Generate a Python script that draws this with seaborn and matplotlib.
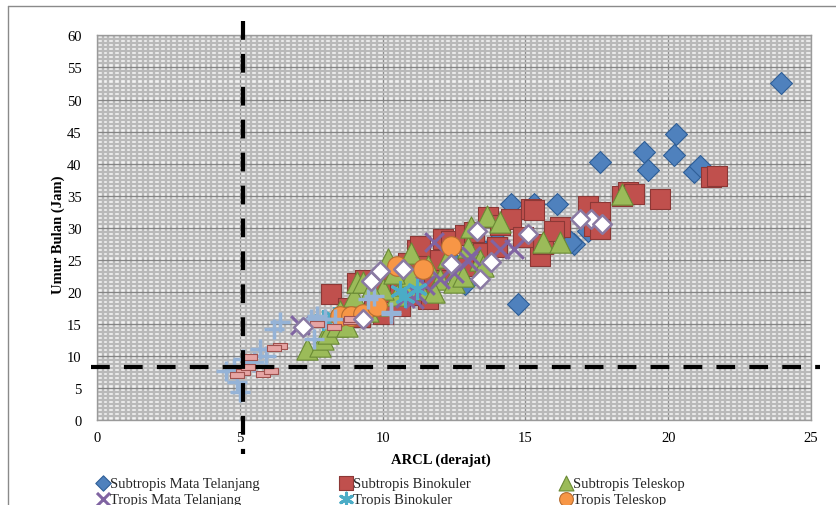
import numpy as np
import pandas as pd
import matplotlib
matplotlib.use('Agg')
import matplotlib.pyplot as plt
from matplotlib.lines import Line2D
from matplotlib.ticker import MultipleLocator
import seaborn as sns

# %% Data

smt_x = [23.95, 20.27, 17.6, 19.15, 19.3, 20.2, 20.9, 21.1, 16.1, 14.5, 15.3, 16.7, 17.2,
         14.74, 12.9, 12.5, 13.5, 11.5, 14.0, 10.5, 16.6]
smt_y = [52.6, 44.6, 40.2, 41.8, 39.0, 41.3, 38.7, 39.6, 33.7, 33.7, 33.7, 27.5, 29.5,
         18.1, 21.2, 24.5, 26.5, 22.0, 28.0, 20.5, 27.8]

sb_x = [8.2, 8.8, 9.1, 9.4, 9.7, 10.0, 10.3, 10.6, 10.9, 11.2, 11.3, 11.6, 12.1, 12.4, 12.9,
        13.2, 13.7, 14.1, 14.5, 15.2, 15.3, 15.5, 15.6, 16.2, 17.2, 17.4, 17.6, 17.6, 18.4,
        18.6, 18.8, 19.7, 21.5, 21.7, 10.0, 10.6, 11.0, 11.8, 12.4, 13.0, 13.5, 14.0, 12.0,
        9.2, 14.9, 16.0]
sb_y = [19.7, 17.5, 21.4, 21.8, 17.0, 16.5, 22.2, 17.8, 24.5, 26.5, 27.1, 18.8, 28.2, 28.0, 28.9,
        29.3, 31.6, 30.5, 31.4, 32.9, 32.7, 25.6, 27.5, 30.1, 33.4, 30.3, 32.4, 29.8, 35.0,
        35.6, 35.3, 34.5, 37.9, 38.0, 20.0, 21.0, 19.5, 22.0, 23.5, 24.0, 26.0, 27.0, 25.0,
        16.0, 28.5, 29.5]

st_x = [7.35, 7.8, 7.9, 8.1, 8.4, 8.75, 9.0, 9.1, 9.3, 9.5, 9.8, 10.2, 10.5, 10.8, 11.0, 11.3,
        11.6, 12.0, 12.3, 12.6, 13.0, 13.1, 13.4, 13.65, 14.1, 15.6, 16.2, 18.4, 10.0, 11.0,
        12.5, 13.5, 8.5, 9.6, 10.4, 11.8, 12.8]
st_y = [11.1, 11.5, 12.6, 13.5, 14.7, 14.7, 19.3, 21.5, 21.5, 17.0, 18.0, 25.1, 19.5, 21.0, 22.5,
        20.5, 24.0, 22.0, 25.5, 23.5, 27.0, 30.1, 25.0, 31.8, 30.9, 27.8, 27.8, 35.3, 20.5, 26.0,
        21.5, 24.0, 17.0, 20.5, 23.0, 20.0, 22.5]

tmt_x = [7.1, 11.1, 11.2, 11.8, 12.0, 13.1, 14.6, 13.0, 14.1, 11.5, 12.5, 10.8]
tmt_y = [14.8, 18.9, 19.7, 27.8, 22.0, 25.6, 26.7, 24.8, 26.7, 21.0, 23.0, 19.0]

tb_x = [7.9, 10.6, 10.8, 11.2, 8.3]
tb_y = [15.6, 20.1, 19.2, 20.5, 16.0]

tt_x = [8.5, 8.9, 9.3, 9.8, 10.5, 11.4, 12.4]
tt_y = [16.2, 16.2, 16.5, 17.8, 24.0, 23.5, 27.2]

# series without a visible legend entry (legend row cut off in the reference)
s7_x = [4.5, 4.8, 5.0, 5.1, 5.5, 5.7, 5.9, 6.2, 6.4, 7.5, 7.6, 7.7, 8.0, 8.35, 9.5, 9.7,
        10.3, 10.3, 4.9]
s7_y = [7.6, 7.9, 4.4, 9.5, 9.0, 11.1, 10.0, 14.2, 15.3, 15.8, 12.6, 16.2, 15.7, 15.7, 18.9, 19.3,
        16.8, 16.5, 6.0]

s8_x = [5.1, 5.3, 5.35, 5.8, 6.1, 6.4, 6.2, 7.7, 8.3, 8.85, 8.9, 4.9]
s8_y = [7.5, 8.3, 9.8, 7.2, 7.6, 11.5, 11.3, 15.0, 14.5, 15.5, 15.8, 7.0]

s9_x = [7.2, 9.3, 9.6, 9.9, 10.7, 12.4, 13.3, 13.8, 13.4, 15.1, 17.3, 17.7, 16.9]
s9_y = [14.5, 15.8, 21.7, 23.2, 23.6, 24.3, 29.5, 24.6, 22.0, 29.0, 31.4, 30.6, 31.4]

# threshold lines
arcl_limit = 5.1
umur_limit = 8.2

# %% Plot

sns.set_theme(style='white')
plt.rcParams['font.family'] = ['Liberation Serif', 'DejaVu Serif']

fig = plt.figure(figsize=(8.37, 5.06), dpi=100)
ax = fig.add_axes([0.1159, 0.168, 0.853, 0.760])

# dense pattern background + major grid
ax.set_facecolor('#f4f4f4')
ax.xaxis.set_major_locator(MultipleLocator(5))
ax.yaxis.set_major_locator(MultipleLocator(5))
ax.xaxis.set_minor_locator(MultipleLocator(0.2))
ax.yaxis.set_minor_locator(MultipleLocator(0.625))
ax.grid(which='minor', color='#b9b9b9', lw=1.7)
ax.grid(which='major', color='#858585', lw=1.0)
ax.set_axisbelow(True)

rect_marker = [(-1, -0.45), (1, -0.45), (1, 0.45), (-1, 0.45), (-1, -0.45)]

sns.scatterplot(x=smt_x, y=smt_y, ax=ax, marker='D', s=125, color='#4f81bd',
                edgecolor='#2f5f98', linewidth=0.8, label='Subtropis Mata Telanjang', zorder=3)
sns.scatterplot(x=sb_x, y=sb_y, ax=ax, marker='s', s=225, color='#c0504d',
                edgecolor='#8c3836', linewidth=0.8, label='Subtropis Binokuler', zorder=4)
sns.scatterplot(x=st_x, y=st_y, ax=ax, marker='^', s=235, color='#9bbb59',
                edgecolor='#6a8a35', linewidth=0.8, label='Subtropis Teleskop', zorder=5)
sns.scatterplot(x=tmt_x, y=tmt_y, ax=ax, marker='x', s=180, color='#8064a2',
                linewidth=2.2, label='Tropis Mata Telanjang', zorder=6)
sns.scatterplot(x=tb_x, y=tb_y, ax=ax, marker=(6, 2, 0), s=170, color='#4bacc6',
                linewidth=2.2, label='Tropis Binokuler', zorder=7)
sns.scatterplot(x=tt_x, y=tt_y, ax=ax, marker='o', s=200, color='#f79646',
                edgecolor='#b66d31', linewidth=0.8, label='Tropis Teleskop', zorder=8)
sns.scatterplot(x=s7_x, y=s7_y, ax=ax, marker='+', s=200, color='#95b3d7',
                linewidth=2.5, zorder=9)
sns.scatterplot(x=s8_x, y=s8_y, ax=ax, marker=rect_marker, s=100, color='#e6a5a4',
                edgecolor='#a0524f', linewidth=0.8, zorder=10)
sns.scatterplot(x=s9_x, y=s9_y, ax=ax, marker='D', s=90, color='white',
                edgecolor='#8a7aa3', linewidth=1.8, zorder=11)

# thick dashed threshold lines
ax.plot([arcl_limit, arcl_limit], [62.2, -5.3], color='black', lw=3,
        dashes=(4.5, 3.4), clip_on=False, zorder=12)
ax.plot([-0.2, 25.3], [umur_limit, umur_limit], color='black', lw=3,
        dashes=(4.5, 3.4), clip_on=False, zorder=12)

ax.set_xlim(0, 25)
ax.set_ylim(0, 60)
ax.tick_params(axis='both', which='both', length=0, labelsize=10.5, colors='black')
ax.tick_params(axis='x', pad=8)
ax.tick_params(axis='y', pad=11)
for s in ax.spines.values():
    s.set_color('#9a9a9a')
    s.set_linewidth(1)

ax.set_xlabel('ARCL (derajat)', fontsize=10.5, fontweight='bold', color='black')
ax.set_ylabel('Umur Bulan (Jam)', fontsize=10.5, fontweight='bold', color='black')
ax.xaxis.set_label_coords(0.482, -0.085)
ax.yaxis.set_label_coords(-0.045, 0.485)

# legend: three columns of two rows each
handles, labels = ax.get_legend_handles_labels()
ax.legend_.remove()
col_x = [0.1145, 0.4045, 0.6675]
for i, cx in enumerate(col_x):
    leg = fig.legend([handles[i], handles[i + 3]], [labels[i], labels[i + 3]],
                     loc='upper left', bbox_to_anchor=(cx, 0.056),
                     bbox_transform=fig.transFigure, frameon=False,
                     fontsize=10.5, handletextpad=0.0, handlelength=1.0, labelspacing=0.2,
                     markerscale=0.7, borderpad=0, borderaxespad=0)

# outer chart border (cut by the picture edge)
fig.add_artist(Line2D([8 / 837, 8 / 837], [0, 1 - 7 / 506], transform=fig.transFigure,
                      color='#8a8a8a', lw=1))
fig.add_artist(Line2D([8 / 837, 1], [1 - 7 / 506, 1 - 7 / 506], transform=fig.transFigure,
                      color='#8a8a8a', lw=1))

fig.savefig('out.png', dpi=100)
